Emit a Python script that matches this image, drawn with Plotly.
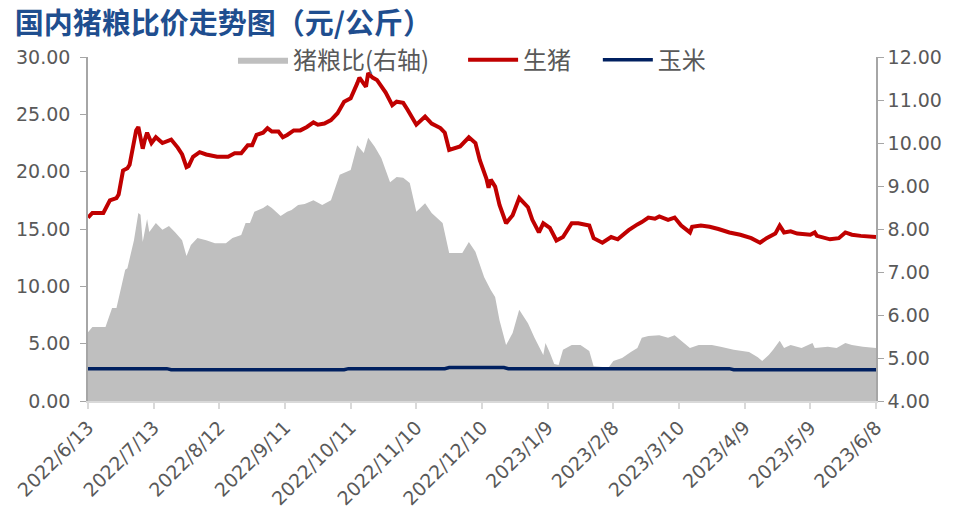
import plotly.graph_objects as go

# ---- 生猪 (元/公斤), left axis ----
hog_dates = [
    "2022-06-13","2022-06-15","2022-06-20","2022-06-23","2022-06-26","2022-06-27","2022-06-29","2022-07-01",
    "2022-07-02","2022-07-05","2022-07-06","2022-07-08","2022-07-09","2022-07-10","2022-07-12","2022-07-14",
    "2022-07-17","2022-07-21","2022-07-24","2022-07-26","2022-07-28","2022-07-29","2022-07-31","2022-08-03",
    "2022-08-06","2022-08-11","2022-08-16","2022-08-19","2022-08-22","2022-08-25","2022-08-27","2022-08-29",
    "2022-09-01","2022-09-03","2022-09-05","2022-09-08","2022-09-10","2022-09-12","2022-09-15","2022-09-18",
    "2022-09-21","2022-09-24","2022-09-26","2022-09-29","2022-10-02","2022-10-05","2022-10-08","2022-10-11",
    "2022-10-14","2022-10-15","2022-10-18","2022-10-19","2022-10-21","2022-10-23","2022-10-27","2022-10-30",
    "2022-11-01","2022-11-04","2022-11-06","2022-11-10","2022-11-14","2022-11-17","2022-11-21","2022-11-23",
    "2022-11-25","2022-11-28","2022-11-30","2022-12-04","2022-12-07","2022-12-09","2022-12-12","2022-12-13",
    "2022-12-14","2022-12-16","2022-12-18","2022-12-21","2022-12-24","2022-12-27","2022-12-31","2023-01-02",
    "2023-01-05","2023-01-07","2023-01-10","2023-01-13","2023-01-16","2023-01-20","2023-01-23","2023-01-28",
    "2023-01-30","2023-02-03","2023-02-07","2023-02-10","2023-02-15","2023-02-19","2023-02-21","2023-02-24",
    "2023-02-27","2023-03-01","2023-03-05","2023-03-08","2023-03-11","2023-03-15","2023-03-16","2023-03-20",
    "2023-03-24","2023-03-28","2023-04-02","2023-04-07","2023-04-12","2023-04-16","2023-04-19","2023-04-23",
    "2023-04-25","2023-04-27","2023-04-30","2023-05-03","2023-05-09","2023-05-11","2023-05-12","2023-05-18",
    "2023-05-22","2023-05-25","2023-05-28","2023-06-01","2023-06-08",
]
hog_price = [
    16.0,16.4,16.4,17.5,17.7,18.0,20.1,20.3,
    20.6,23.6,23.9,22.0,22.8,23.4,22.5,23.0,
    22.5,22.8,22.1,21.5,20.4,20.5,21.3,21.7,
    21.5,21.3,21.3,21.6,21.6,22.3,22.3,23.2,
    23.4,23.8,23.5,23.5,23.0,23.2,23.6,23.6,
    23.9,24.3,24.1,24.2,24.5,25.1,26.1,26.4,
    27.7,28.2,27.4,28.6,28.2,28.0,26.9,25.8,
    26.1,26.0,25.4,24.1,24.8,24.2,23.8,23.4,
    21.9,22.1,22.2,23.0,22.5,21.0,19.4,18.6,
    19.3,18.7,17.1,15.5,16.2,17.7,16.9,15.8,
    14.7,15.5,15.1,14.0,14.3,15.5,15.5,15.3,
    14.2,13.8,14.3,14.1,14.9,15.4,15.6,16.0,
    15.9,16.1,15.8,16.0,15.3,14.7,15.2,15.3,
    15.2,15.0,14.7,14.5,14.2,13.8,14.2,14.6,
    15.3,14.7,14.8,14.6,14.5,14.7,14.4,14.1,
    14.2,14.7,14.5,14.4,14.3,
]

# ---- 玉米 (元/公斤), left axis ----
corn_dates = ["2022-06-13","2022-07-19","2022-07-21","2022-10-08","2022-10-10","2022-11-23","2022-11-25",
              "2022-12-20","2022-12-22","2023-04-02","2023-04-04","2023-06-08"]
corn_price = [2.82,2.82,2.72,2.72,2.82,2.82,2.92,2.92,2.82,2.82,2.72,2.72]

# ---- 猪粮比 (右轴) ----
ratio_dates = [
    "2022-06-13","2022-06-15","2022-06-21","2022-06-24","2022-06-26","2022-06-30","2022-07-01","2022-07-04",
    "2022-07-06","2022-07-07","2022-07-08","2022-07-10","2022-07-11","2022-07-14","2022-07-17","2022-07-20",
    "2022-07-23","2022-07-26","2022-07-28","2022-07-30","2022-08-02","2022-08-06","2022-08-10","2022-08-15",
    "2022-08-18","2022-08-22","2022-08-24","2022-08-26","2022-08-28","2022-09-01","2022-09-03","2022-09-05",
    "2022-09-09","2022-09-12","2022-09-14","2022-09-17","2022-09-20","2022-09-24","2022-09-28","2022-10-02",
    "2022-10-06","2022-10-11","2022-10-14","2022-10-17","2022-10-19","2022-10-22","2022-10-25","2022-10-29",
    "2022-11-01","2022-11-04","2022-11-07","2022-11-10","2022-11-14","2022-11-17","2022-11-22","2022-11-25",
    "2022-12-01","2022-12-04","2022-12-07","2022-12-11","2022-12-14","2022-12-16","2022-12-18","2022-12-21",
    "2022-12-24","2022-12-27","2022-12-31","2023-01-03","2023-01-07","2023-01-08","2023-01-10","2023-01-12",
    "2023-01-14","2023-01-16","2023-01-20","2023-01-24","2023-01-28","2023-01-30","2023-02-03","2023-02-06",
    "2023-02-08","2023-02-12","2023-02-16","2023-02-19","2023-02-21","2023-02-24","2023-03-01","2023-03-05",
    "2023-03-08","2023-03-12","2023-03-15","2023-03-19","2023-03-25","2023-03-29","2023-04-04","2023-04-11",
    "2023-04-15","2023-04-17","2023-04-20","2023-04-22","2023-04-25","2023-04-27","2023-04-30","2023-05-05",
    "2023-05-10","2023-05-11","2023-05-17","2023-05-21","2023-05-25","2023-05-28","2023-06-02","2023-06-08",
]
ratio = [
    5.60,5.72,5.72,6.16,6.16,7.05,7.09,7.74,
    8.37,8.33,7.70,8.23,7.93,8.14,7.98,8.07,
    7.91,7.74,7.37,7.63,7.79,7.74,7.67,7.67,
    7.79,7.86,8.14,8.14,8.40,8.49,8.56,8.49,
    8.30,8.40,8.44,8.56,8.58,8.67,8.56,8.67,
    9.26,9.37,9.95,9.77,10.12,9.91,9.65,9.09,
    9.21,9.19,9.07,8.40,8.60,8.37,8.14,7.44,
    7.44,7.70,7.47,6.88,6.58,6.42,5.88,5.30,
    5.58,6.12,5.81,5.47,5.07,5.35,5.12,4.86,
    4.84,5.19,5.30,5.30,5.16,4.81,4.79,4.79,
    4.93,5.00,5.14,5.23,5.47,5.51,5.53,5.47,
    5.53,5.35,5.23,5.30,5.30,5.26,5.19,5.14,
    5.02,4.93,5.07,5.19,5.40,5.23,5.30,5.23,
    5.35,5.23,5.26,5.23,5.35,5.30,5.26,5.23,
]

# ---- axis ticks ----
x_tick_dates = ["2022-06-13","2022-07-13","2022-08-12","2022-09-11","2022-10-11","2022-11-10","2022-12-10",
                "2023-01-09","2023-02-08","2023-03-10","2023-04-09","2023-05-09","2023-06-08"]
x_tick_labels = ["2022/6/13","2022/7/13","2022/8/12","2022/9/11","2022/10/11","2022/11/10","2022/12/10",
                 "2023/1/9","2023/2/8","2023/3/10","2023/4/9","2023/5/9","2023/6/8"]
left_ticks = [0, 5, 10, 15, 20, 25, 30]
left_labels = ["0.00","5.00","10.00","15.00","20.00","25.00","30.00"]
right_ticks = [4, 5, 6, 7, 8, 9, 10, 11, 12]
right_labels = ["4.00","5.00","6.00","7.00","8.00","9.00","10.00","11.00","12.00"]

TICK_FONT = dict(family="DejaVu Sans", size=19, color="#595959")
AXIS_COLOR = "#A6A6A6"
LEG_FONT = dict(family="Noto Sans CJK SC", size=24, color="#595959")

fig = go.Figure()
fig.add_trace(go.Scatter(
    x=ratio_dates, y=ratio, name="猪粮比(右轴)", yaxis="y", legend="legend",
    mode="lines", line=dict(width=0, color="#BFBFBF"),
    fill="tozeroy", fillcolor="#BFBFBF",
))
fig.add_trace(go.Scatter(
    x=hog_dates, y=hog_price, name="生猪", yaxis="y2", legend="legend2",
    mode="lines", line=dict(width=4, color="#C00000"),
))
fig.add_trace(go.Scatter(
    x=corn_dates, y=corn_price, name="玉米", yaxis="y2", legend="legend3",
    mode="lines", line=dict(width=3.5, color="#002060"),
))

def leg(xpos):
    return dict(
        orientation="h", x=xpos, xanchor="left", y=0.991, yanchor="middle",
        font=LEG_FONT, bgcolor="rgba(0,0,0,0)", itemwidth=50,
    )

# the page body adds an 8px offset; margins account for it
fig.update_layout(
    width=960, height=516,
    margin=dict(l=80, r=92, t=49, b=123, autoexpand=False),
    plot_bgcolor="white", paper_bgcolor="white",
    font=dict(family="Noto Sans CJK SC", color="#595959"),
    title=dict(
        text="<b>国内猪粮比价走势图（元/公斤）</b>",
        x=0.007, xanchor="left", xref="container",
        y=0.969, yanchor="middle", yref="container",
        font=dict(family="Noto Sans CJK SC", size=29, color="#1F4E8F"),
    ),
    showlegend=True,
    legend=leg(0.184),
    legend2=leg(0.476),
    legend3=leg(0.647),
    xaxis=dict(
        type="date", automargin=False,
        range=["2022-06-13", "2023-06-08"],
        tickvals=x_tick_dates, ticktext=x_tick_labels,
        tickangle=-45, tickfont=TICK_FONT,
        showgrid=False, zeroline=False,
        showline=True, linecolor="#D9D9D9", linewidth=2,
        ticks="outside", ticklen=6, tickcolor="#D9D9D9", tickwidth=2,
    ),
    yaxis=dict(
        side="right", range=[4, 12], automargin=False,
        tickvals=right_ticks, ticktext=right_labels, tickfont=TICK_FONT,
        showgrid=False, zeroline=False,
        showline=True, linecolor=AXIS_COLOR, linewidth=1.5,
        ticks="outside", ticklen=6, tickcolor=AXIS_COLOR,
    ),
    yaxis2=dict(
        side="left", overlaying="y", range=[0, 30], automargin=False,
        tickvals=left_ticks, ticktext=left_labels, tickfont=TICK_FONT,
        ticklabelstandoff=6,
        showgrid=False, zeroline=False,
        showline=True, linecolor=AXIS_COLOR, linewidth=1.5,
        ticks="outside", ticklen=6, tickcolor=AXIS_COLOR,
    ),
)

fig.write_html("out.html")
